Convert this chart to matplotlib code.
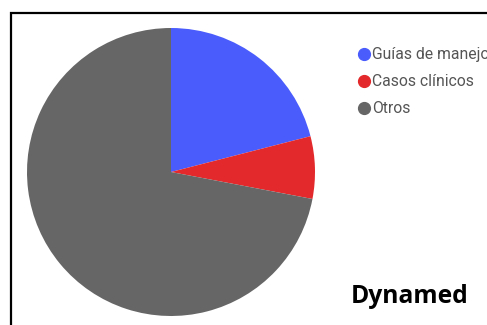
import matplotlib.pyplot as plt
from matplotlib.lines import Line2D
from matplotlib.patches import Rectangle

labels = ['Guías de manejo', 'Casos clínicos', 'Otros']
values = [21, 7, 72]
colors = ['#4a5cfc', '#e3292b', '#666666']
title = 'Dynamed'

W, H = 487, 325
fig = plt.figure(figsize=(W / 100, H / 100), dpi=100)

# frame: only left and top edges fall inside the picture
fig.patches.append(Rectangle((11 / W, -0.1), 1.2, 1 - 13 / H + 0.1,
                             transform=fig.transFigure, fill=False,
                             edgecolor='black', linewidth=1.6))

cx, cy, r = 171, 172, 144
ax = fig.add_axes([(cx - r) / W, (H - cy - r) / H, 2 * r / W, 2 * r / H])
ax.pie(values, colors=colors, startangle=90, counterclock=False,
       wedgeprops=dict(linewidth=0))
ax.set_xlim(-1, 1)
ax.set_ylim(-1, 1)
ax.set_aspect('equal')
ax.axis('off')

handles = [Line2D([], [], marker='o', linestyle='none', markersize=8.5,
                  markerfacecolor=c, markeredgecolor=c) for c in colors]
leg = fig.legend(handles, labels, loc='upper left',
                 bbox_to_anchor=(359 / W, 1 - 47 / H), frameon=False,
                 prop=dict(family='Roboto', size=11.3), labelcolor='#555555',
                 handlelength=0.6, handletextpad=0.25, labelspacing=0.78,
                 borderpad=0, borderaxespad=0)

fig.text(351 / W, 1 - 303 / H, title, family='Open Sans', weight='bold',
         fontsize=17.7, color='black', ha='left', va='baseline')

fig.savefig('out.png', dpi=100)
